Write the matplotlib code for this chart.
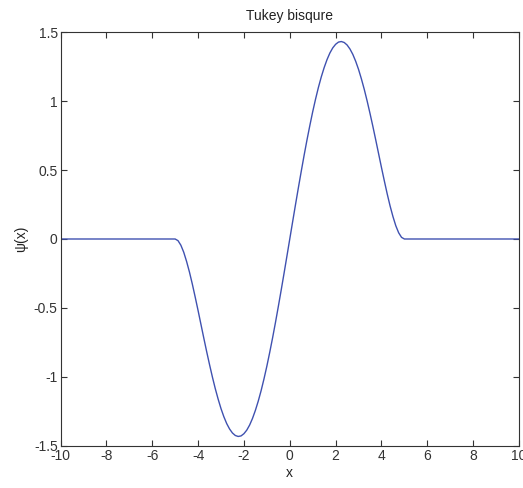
import matplotlib
matplotlib.use("Agg")
import matplotlib.pyplot as plt

# psi values of the Tukey bisquare (zero outside |x| > 5)
x_vals = [-10, -5, -4.875, -4.75, -4.625, -4.5, -4.375, -4.25, -4.125, -4.0,
          -3.875, -3.75, -3.625, -3.5, -3.375, -3.25, -3.125, -3.0,
          -2.875, -2.75, -2.625, -2.5, -2.375, -2.25, -2.125, -2.0,
          -1.875, -1.75, -1.625, -1.5, -1.375, -1.25, -1.125, -1.0,
          -0.875, -0.75, -0.625, -0.5, -0.375, -0.25, -0.125, 0.0,
          0.125, 0.25, 0.375, 0.5, 0.625, 0.75, 0.875, 1.0,
          1.125, 1.25, 1.375, 1.5, 1.625, 1.75, 1.875, 2.0,
          2.125, 2.25, 2.375, 2.5, 2.625, 2.75, 2.875, 3.0,
          3.125, 3.25, 3.375, 3.5, 3.625, 3.75, 3.875, 4.0,
          4.125, 4.25, 4.375, 4.5, 4.625, 4.75, 4.875, 5, 10]
psi_vals = [0, 0, -0.012, -0.045, -0.096, -0.163, -0.240, -0.327, -0.421, -0.518,
            -0.618, -0.718, -0.816, -0.910, -1.000, -1.084, -1.160, -1.229,
            -1.288, -1.338, -1.377, -1.406, -1.424, -1.431, -1.427, -1.411,
            -1.385, -1.348, -1.300, -1.242, -1.175, -1.099, -1.014, -0.922,
            -0.822, -0.717, -0.606, -0.490, -0.371, -0.249, -0.125, 0.0,
            0.125, 0.249, 0.371, 0.490, 0.606, 0.717, 0.822, 0.922,
            1.014, 1.099, 1.175, 1.242, 1.300, 1.348, 1.385, 1.411,
            1.427, 1.431, 1.424, 1.406, 1.377, 1.338, 1.288, 1.229,
            1.160, 1.084, 1.000, 0.910, 0.816, 0.718, 0.618, 0.518,
            0.421, 0.327, 0.240, 0.163, 0.096, 0.045, 0.012, 0, 0]

x_ticks = [-10, -8, -6, -4, -2, 0, 2, 4, 6, 8, 10]
y_ticks = [-1.5, -1, -0.5, 0, 0.5, 1, 1.5]

plt.rcParams["font.family"] = ["Liberation Sans Narrow", "Liberation Sans", "DejaVu Sans"]

fig = plt.figure(figsize=(5.23, 4.88), dpi=100)
ax = fig.add_axes([0.1157, 0.0861, 0.8767, 0.8483])

ax.plot(x_vals, psi_vals, color="#3f51b0", linewidth=1.0)

ax.set_xlim(-10, 10)
ax.set_ylim(-1.5, 1.5)
ax.set_xticks(x_ticks)
ax.set_xticklabels([f"{t:g}" for t in x_ticks])
ax.set_yticks(y_ticks)
ax.set_yticklabels([f"{t:g}" for t in y_ticks])
ax.tick_params(direction="in", top=True, right=True, length=4, width=0.8,
               labelsize=10, colors="#333333", pad=2)
for s in ax.spines.values():
    s.set_color("#333333")
    s.set_linewidth(0.8)

ax.set_title("Tukey bisqure", fontsize=10, color="#222222", pad=9)
ax.set_xlabel("x", fontsize=10, color="#222222", labelpad=2)
ax.set_ylabel("\u03c8(x)", fontsize=10, color="#222222", labelpad=4)

fig.savefig("out.png", dpi=100)
